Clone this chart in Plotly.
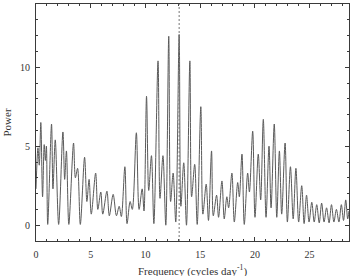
import plotly.graph_objects as go

# Local extrema of the periodogram (frequency, power)
freq = [0.00, 0.18, 0.30, 0.44, 0.60, 0.75, 0.86, 0.95, 1.07, 1.42, 1.55, 1.76, 2.07, 2.46, 2.62, 2.78,
        3.00, 3.43, 3.60, 3.80, 4.05, 4.44, 4.65, 4.85, 5.05, 5.45, 5.65, 5.92, 6.10, 6.48, 6.70, 7.05,
        7.35, 7.60, 7.80, 8.12, 8.32, 8.60, 8.80, 9.17, 9.42, 9.70, 9.87, 10.10, 10.30, 10.55, 10.77,
        11.15, 11.33, 11.60, 11.86, 12.13, 12.30, 12.53, 12.77, 13.08, 13.24, 13.50, 13.75, 14.06,
        14.22, 14.50, 14.73, 15.06, 15.25, 15.55, 15.76, 16.04, 16.20, 16.50, 16.68, 16.99, 17.20,
        17.44, 17.60, 17.90, 18.12, 18.43, 18.58, 18.82, 19.03, 19.34, 19.50, 19.80, 20.01, 20.31,
        20.53, 20.77, 21.02, 21.29, 21.48, 21.77, 22.00, 22.24, 22.45, 22.76, 22.97, 23.25, 23.50,
        23.75, 24.00, 24.28, 24.50, 24.72, 24.95, 25.20, 25.42, 25.65, 25.88, 26.10, 26.32, 26.55,
        26.78, 27.00, 27.22, 27.45, 27.68, 27.90, 28.10, 28.30, 28.48, 28.60]
power = [2.3, 4.9, 3.8, 6.5, 1.8, 5.1, 4.1, 5.0, 0.05, 6.4, 2.3, 5.4, 0.05, 5.9, 2.9, 4.7,
         0.05, 5.2, 3.0, 3.6, 0.05, 4.3, 1.5, 2.9, 0.7, 3.3, 1.0, 2.1, 0.7, 2.15, 0.6, 1.95,
         0.6, 1.2, 0.55, 3.7, 0.1, 1.5, 1.0, 5.85, 1.0, 2.3, 0.9, 8.16, 2.2, 4.4, 0.1,
         10.4, 1.7, 4.4, 0.0, 11.96, 1.5, 3.3, 0.2, 12.07, 1.2, 3.95, 0.0, 10.4,
         1.8, 3.85, 0.05, 7.5, 0.7, 2.6, 0.3, 4.7, 0.6, 1.9, 0.5, 2.8, 0.4,
         1.8, 1.1, 3.3, 0.2, 2.7, 1.8, 4.5, 0.05, 3.3, 2.1, 5.95, 0.5, 4.5,
         1.6, 6.7, 0.5, 5.0, 1.1, 6.4, 0.5, 4.7, 0.7, 5.2, 0.2, 3.7, 0.4,
         3.6, 0.2, 2.5, 0.1, 1.9, 0.2, 1.45, 0.2, 1.3, 0.15, 1.4, 0.2, 1.1,
         0.15, 1.3, 0.2, 1.0, 0.2, 1.3, 0.3, 1.6, 0.4, 0.9]

peak_freq = 13.08
x_ticks = [0, 5, 10, 15, 20, 25]
y_ticks = [0, 5, 10]

font_family = "Liberation Serif, Times New Roman, DejaVu Serif, serif"
axis_color = "#3a3a3a"

fig = go.Figure()
fig.add_trace(go.Scatter(
    x=freq, y=power, mode="lines",
    line=dict(color="#5a5a5a", width=1, shape="spline", smoothing=0.9),
    showlegend=False, hoverinfo="skip"))

fig.add_shape(type="line", x0=peak_freq, x1=peak_freq, xref="x", y0=0, y1=1, yref="paper",
              line=dict(color="#777777", width=1, dash="2px,2px"))

common = dict(showgrid=False, zeroline=False, showline=True, linecolor=axis_color, linewidth=1,
              mirror="ticks", ticks="inside", ticklen=4, tickcolor=axis_color, tickwidth=1,
              tickfont=dict(family=font_family, size=10, color="#333333"))

fig.update_xaxes(range=[0, 28.6], tickvals=x_ticks, ticktext=[str(v) for v in x_ticks],
                 minor=dict(dtick=1, tick0=0, ticks="inside", ticklen=2, tickcolor=axis_color),
                 ticklabelstandoff=4, **common)
fig.update_yaxes(range=[-1, 14], tickvals=y_ticks, ticktext=[str(v) for v in y_ticks],
                 minor=dict(dtick=1, tick0=0, ticks="inside", ticklen=2, tickcolor=axis_color),
                 ticklabelstandoff=3, **common)

fig.add_annotation(text="Frequency (cycles day<sup>-1</sup>)", xref="paper", yref="paper",
                   x=0.5, y=0, yanchor="top", yshift=-20, showarrow=False,
                   font=dict(family=font_family, size=11, color="#333333"))
fig.add_annotation(text="Power", xref="paper", yref="paper", x=0, y=0.5, xanchor="right",
                   xshift=-22, textangle=-90, showarrow=False,
                   font=dict(family=font_family, size=11, color="#333333"))

fig.update_layout(width=355, height=276, margin=dict(l=36, r=6, t=4, b=35),
                  paper_bgcolor="white", plot_bgcolor="white",
                  font=dict(family=font_family))

fig.write_html("out.html")
